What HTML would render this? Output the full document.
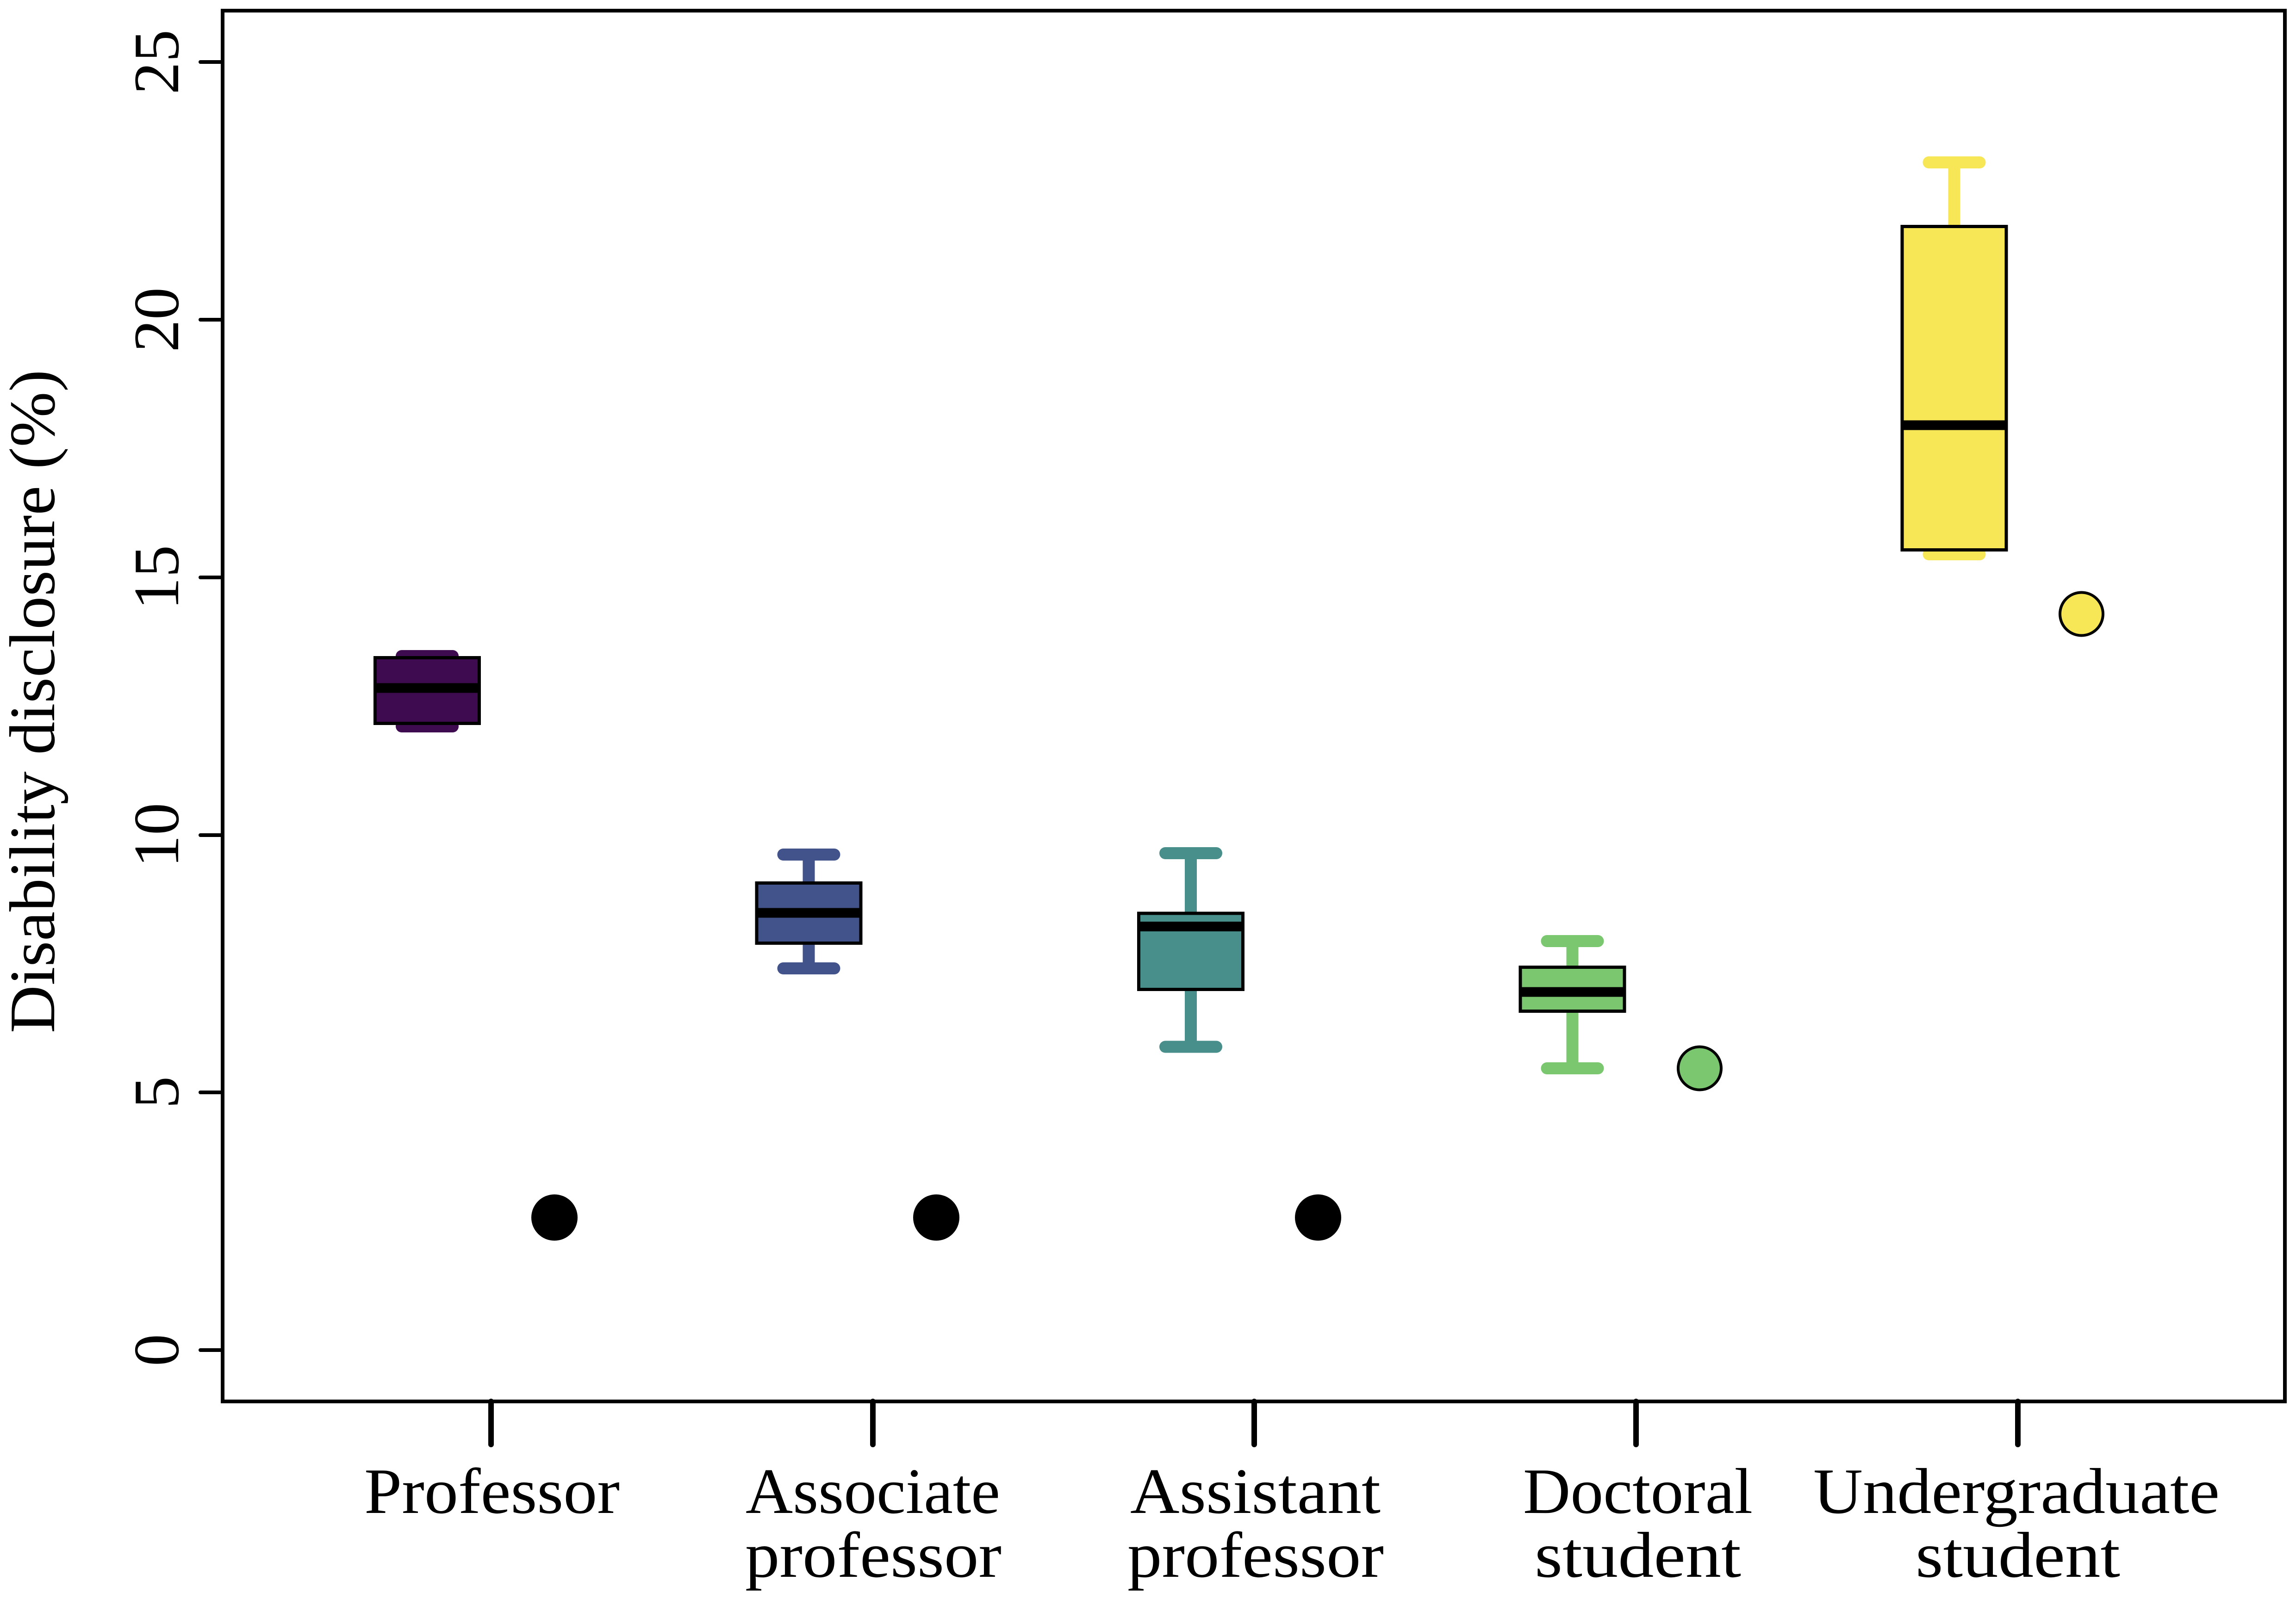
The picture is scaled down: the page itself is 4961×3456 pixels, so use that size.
<!DOCTYPE html>
<html>
<head>
<meta charset="utf-8">
<style>
html,body{margin:0;padding:0;background:#fff;}
svg{display:block;}
text{font-family:"Liberation Serif","DejaVu Serif",serif;fill:#000;}
</style>
</head>
<body>
<svg width="4961" height="3456" viewBox="0 0 4961 3456" xmlns="http://www.w3.org/2000/svg">
<rect x="0" y="0" width="4961" height="3456" fill="#fff"/>

<!-- Professor -->
<g stroke="#3E0A50" stroke-width="26" stroke-linecap="round">
  <line x1="923" y1="1418" x2="923" y2="1570"/>
  <line x1="868" y1="1418" x2="978" y2="1418"/>
  <line x1="868" y1="1570" x2="978" y2="1570"/>
</g>
<rect x="810.5" y="1421.5" width="225" height="142" fill="#3E0A50" stroke="#000" stroke-width="7"/>
<line x1="810" y1="1487" x2="1036" y2="1487" stroke="#000" stroke-width="21"/>

<!-- Associate professor -->
<g stroke="#41538A" stroke-width="26" stroke-linecap="round">
  <line x1="1747.5" y1="1847" x2="1747.5" y2="2093"/>
  <line x1="1692.5" y1="1847" x2="1802.5" y2="1847"/>
  <line x1="1692.5" y1="2093" x2="1802.5" y2="2093"/>
</g>
<rect x="1635" y="1908.5" width="225" height="130" fill="#41538A" stroke="#000" stroke-width="7"/>
<line x1="1635" y1="1973" x2="1860" y2="1973" stroke="#000" stroke-width="21"/>

<!-- Assistant professor -->
<g stroke="#488E8A" stroke-width="26" stroke-linecap="round">
  <line x1="2573" y1="1844" x2="2573" y2="2262.5"/>
  <line x1="2518" y1="1844" x2="2628" y2="1844"/>
  <line x1="2518" y1="2262.5" x2="2628" y2="2262.5"/>
</g>
<rect x="2460.5" y="1974" width="225" height="164.5" fill="#488E8A" stroke="#000" stroke-width="7"/>
<line x1="2460" y1="2002.5" x2="2686" y2="2002.5" stroke="#000" stroke-width="21"/>

<!-- Doctoral student -->
<g stroke="#7BC76F" stroke-width="26" stroke-linecap="round">
  <line x1="3397.5" y1="2034" x2="3397.5" y2="2309"/>
  <line x1="3342.5" y1="2034" x2="3452.5" y2="2034"/>
  <line x1="3342.5" y1="2309" x2="3452.5" y2="2309"/>
</g>
<rect x="3285" y="2090.5" width="225" height="95" fill="#7BC76F" stroke="#000" stroke-width="7"/>
<line x1="3285" y1="2144" x2="3510" y2="2144" stroke="#000" stroke-width="21"/>

<!-- Undergraduate student -->
<g stroke="#F7E757" stroke-width="26" stroke-linecap="round">
  <line x1="4222.5" y1="351" x2="4222.5" y2="1198"/>
  <line x1="4167.5" y1="351" x2="4277.5" y2="351"/>
  <line x1="4167.5" y1="1198" x2="4277.5" y2="1198"/>
</g>
<rect x="4110" y="489.5" width="225" height="699" fill="#F7E757" stroke="#000" stroke-width="7"/>
<line x1="4110" y1="919" x2="4335" y2="919" stroke="#000" stroke-width="21"/>

<!-- points -->
<circle cx="1198" cy="2631.5" r="50" fill="#000"/>
<circle cx="2023" cy="2631.5" r="50" fill="#000"/>
<circle cx="2848" cy="2631.5" r="50" fill="#000"/>
<circle cx="3672.5" cy="2309" r="46.5" fill="#7BC76F" stroke="#000" stroke-width="6"/>
<circle cx="4497.5" cy="1327" r="46.5" fill="#F7E757" stroke="#000" stroke-width="6"/>

<!-- frame -->
<rect x="481" y="23" width="4456" height="3006" fill="none" stroke="#000" stroke-width="8"/>

<!-- y ticks -->
<g stroke="#000" stroke-width="8" stroke-linecap="round">
  <line x1="433" y1="134" x2="481" y2="134"/>
  <line x1="433" y1="691" x2="481" y2="691"/>
  <line x1="433" y1="1248" x2="481" y2="1248"/>
  <line x1="433" y1="1805" x2="481" y2="1805"/>
  <line x1="433" y1="2361" x2="481" y2="2361"/>
  <line x1="433" y1="2918" x2="481" y2="2918"/>
</g>
<!-- x ticks -->
<g stroke="#000" stroke-width="12" stroke-linecap="round">
  <line x1="1061" y1="3029" x2="1061" y2="3122"/>
  <line x1="1886" y1="3029" x2="1886" y2="3122"/>
  <line x1="2710" y1="3029" x2="2710" y2="3122"/>
  <line x1="3535" y1="3029" x2="3535" y2="3122"/>
  <line x1="4360" y1="3029" x2="4360" y2="3122"/>
</g>

<!-- y tick labels -->
<g font-size="140" text-anchor="middle">
  <text transform="translate(385,134) rotate(-90)">25</text>
  <text transform="translate(385,691) rotate(-90)">20</text>
  <text transform="translate(385,1248) rotate(-90)">15</text>
  <text transform="translate(385,1805) rotate(-90)">10</text>
  <text transform="translate(385,2361) rotate(-90)">5</text>
  <text transform="translate(385,2918) rotate(-90)">0</text>
</g>

<!-- y title -->
<text font-size="140" text-anchor="middle" transform="translate(117,1516) rotate(-90)" textLength="1434" lengthAdjust="spacingAndGlyphs">Disability disclosure (%)</text>

<!-- x labels -->
<g font-size="140">
  <text x="787" y="3270" textLength="552" lengthAdjust="spacingAndGlyphs">Professor</text>
  <text x="1611" y="3270" textLength="550" lengthAdjust="spacingAndGlyphs">Associate</text>
  <text x="1610" y="3408" textLength="554" lengthAdjust="spacingAndGlyphs">professor</text>
  <text x="2442" y="3270" textLength="541" lengthAdjust="spacingAndGlyphs">Assistant</text>
  <text x="2436" y="3408" textLength="554" lengthAdjust="spacingAndGlyphs">professor</text>
  <text x="3291" y="3270" textLength="496" lengthAdjust="spacingAndGlyphs">Doctoral</text>
  <text x="3316" y="3408" textLength="446" lengthAdjust="spacingAndGlyphs">student</text>
  <text x="3918" y="3270" textLength="878" lengthAdjust="spacingAndGlyphs">Undergraduate</text>
  <text x="4139" y="3408" textLength="442" lengthAdjust="spacingAndGlyphs">student</text>
</g>
</svg>
</body>
</html>
